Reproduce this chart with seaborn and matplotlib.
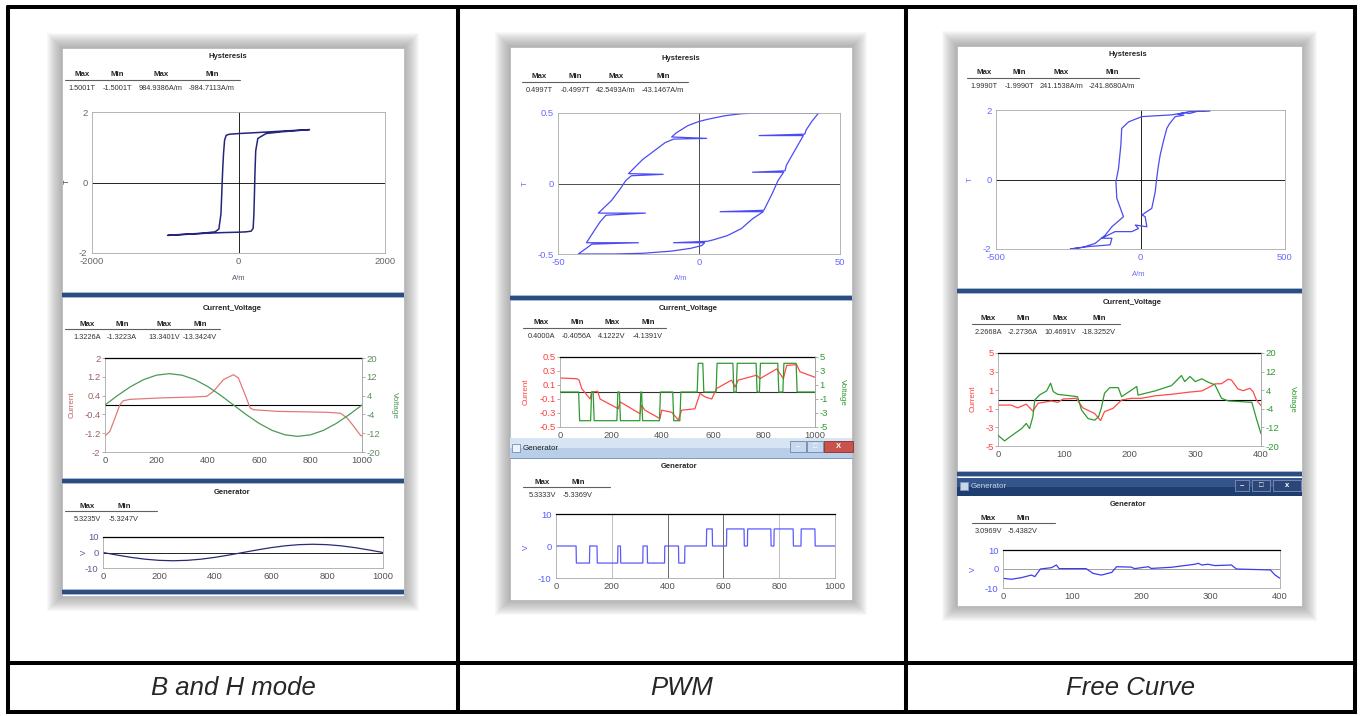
import numpy as np
import pandas as pd
import seaborn as sns
import matplotlib.pyplot as plt
from matplotlib.patches import Rectangle

# ---------------- B and H mode ----------------
bh_loop_h = [968, 700, 450, 200, 14, -123, -168, -190, -205, -215, -223, -230, -240, -268, -320, -500,
             -750, -968, -700, -450, -200, 0, 100, 173, 200, 210, 218, 225, 235, 264, 377, 600, 968]
bh_loop_b = [1.50, 1.47, 1.44, 1.41, 1.39, 1.37, 1.34, 1.2, 0.8, 0.4, 0.0, -0.4, -0.9, -1.32, -1.40, -1.44,
             -1.47, -1.50, -1.47, -1.44, -1.42, -1.41, -1.40, -1.38, -1.3, -0.9, -0.3, 0.3, 0.9, 1.25, 1.39, 1.44, 1.50]
bh_t_cur = [0, 19, 39, 58, 71, 97, 214, 344, 396, 422, 461, 500, 519, 545, 565, 578, 669, 864, 916, 942, 968, 994, 1000]
bh_cur = [-1.32, -1.12, -0.55, 0.01, 0.18, 0.24, 0.30, 0.34, 0.37, 0.58, 1.08, 1.29, 1.15, 0.44, -0.13, -0.20,
          -0.27, -0.31, -0.35, -0.55, -0.91, -1.29, -1.32]
bh_t = [0, 50, 100, 150, 200, 250, 300, 350, 400, 450, 500, 550, 600, 650, 700, 750, 800, 850, 900, 950, 1000]
bh_volt = [0, 4.12, 7.84, 10.79, 12.69, 13.34, 12.69, 10.79, 7.84, 4.12, 0, -4.12, -7.84, -10.79, -12.69,
           -13.34, -12.69, -10.79, -7.84, -4.12, 0]
bh_gen = [0, -1.64, -3.13, -4.31, -5.06, -5.32, -5.06, -4.31, -3.13, -1.64, 0, 1.64, 3.13, 4.31, 5.06,
          5.32, 5.06, 4.31, 3.13, 1.64, 0]
bh_stats_hyst = ['1.5001T', '-1.5001T', '984.9386A/m', '-984.7113A/m']
bh_stats_cv = ['1.3226A', '-1.3223A', '13.3401V', '-13.3424V']
bh_stats_gen = ['5.3235V', '-5.3247V']

# ---------------- PWM ----------------
pwm_loop_h = [42.4, 30, 21, 15, 9, 3, 0, -4, -8, -9.7, 2.7, -9, -12, -16, -20, -23, -25, -12.7, -24, -26,
              -28, -31, -35.7, -19, -33, -35, -37, -39.9, -21.5, -38, -40, -42.8, -30, -20, -10, -3, 1, 2,
              -9, 3, 5, 10, 15, 19, 22.8, 7.5, 23, 24, 26, 28, 30, 19, 30.5, 31, 33, 35, 37, 21.3, 37.5, 38, 40, 42.4]
pwm_loop_b = [0.50, 0.50, 0.50, 0.495, 0.48, 0.455, 0.44, 0.41, 0.36, 0.33, 0.32, 0.315, 0.29, 0.23, 0.17,
              0.11, 0.07, 0.065, 0.055, 0.02, -0.04, -0.12, -0.21, -0.21, -0.225, -0.27, -0.33, -0.42, -0.42,
              -0.43, -0.46, -0.50, -0.50, -0.495, -0.48, -0.46, -0.44, -0.42, -0.42, -0.41, -0.40, -0.37, -0.32,
              -0.25, -0.20, -0.20, -0.19, -0.15, -0.07, 0.02, 0.08, 0.08, 0.09, 0.13, 0.20, 0.27, 0.34, 0.34,
              0.35, 0.38, 0.44, 0.50]
pwm_t_cur = [0, 65, 75, 85, 118, 124, 148, 157, 229, 235, 314, 320, 333, 392, 399, 438, 464, 477, 529, 549,
             569, 595, 614, 673, 686, 699, 771, 784, 850, 876, 889, 928, 941, 1000]
pwm_cur = [0.20, 0.19, 0.17, 0.05, -0.10, 0.00, 0.01, -0.10, -0.24, -0.14, -0.31, -0.19, -0.26, -0.38, -0.26,
           -0.29, -0.40, -0.26, -0.24, -0.02, -0.07, -0.10, 0.05, 0.17, 0.07, 0.17, 0.24, 0.19, 0.33, 0.19,
           0.38, 0.39, 0.29, 0.21]
pwm_volt_on = [73, 130, 233, 320, 442, 538, 612, 691, 782, 874]
pwm_volt_off = [120, 223, 313, 390, 470, 560, 678, 769, 854, 926]
pwm_volt_level = [-4.1, -4.1, -4.1, -4.1, -4.1, 4.1, 4.1, 4.1, 4.1, 4.1]
pwm_gen_on = [72, 147, 231, 327, 439, 539, 611, 686, 781, 878]
pwm_gen_off = [120, 221, 311, 389, 461, 560, 674, 770, 850, 928]
pwm_gen_level = [-5.33, -5.33, -5.33, -5.33, -5.33, 5.33, 5.33, 5.33, 5.33, 5.33]
pwm_stats_hyst = ['0.4997T', '-0.4997T', '42.5493A/m', '-43.1467A/m']
pwm_stats_cv = ['0.4000A', '-0.4056A', '4.1222V', '-4.1391V']
pwm_stats_gen = ['5.3333V', '-5.3369V']

# ---------------- Free Curve ----------------
free_loop_h = [241, 200, 170, 150, 108, 5, -41, -65, -68, -76, -85, -82, -65, -59, -99, -122, -157, -200, -243,
               -180, -105, -99, -134, -88, -30, -7, -18, 22, 16, 5, 39, 51, 56, 62, 68, 79, 91, 100, 120, 150,
               130, 166, 200, 241]
free_loop_b = [1.98, 1.97, 1.90, 1.92, 1.86, 1.81, 1.66, 1.47, 0.99, 0.32, -0.06, -0.54, -0.93, -1.07, -1.36,
               -1.60, -1.84, -1.95, -2.0, -1.93, -1.88, -1.69, -1.69, -1.50, -1.50, -1.41, -1.31, -1.36, -1.07,
               -1.02, -0.83, -0.35, 0.03, 0.40, 0.70, 1.09, 1.47, 1.60, 1.81, 1.85, 1.88, 1.95, 1.97, 1.98]
free_t_cur = [0, 20, 30, 43, 53, 61, 81, 91, 99, 119, 129, 147, 156, 162, 175, 188, 203, 218, 239, 264, 289,
              310, 320, 330, 340, 350, 355, 365, 373, 383, 388, 393, 400]
free_cur = [-0.6, -0.6, -0.9, -0.5, -1.25, -0.4, -0.16, -0.3, 0.05, 0.13, -0.9, -1.5, -2.27, -1.3, -0.95,
            -0.05, 0.13, 0.13, 0.4, 0.56, 0.78, 0.92, 1.28, 1.68, 1.7, 2.18, 2.1, 1.13, 0.95, 1.2, 0.85, -0.05, -0.66]
free_t_volt = [0, 10, 18, 25, 36, 43, 48, 53, 56, 63, 74, 80, 84, 91, 107, 121, 127, 137, 147, 153, 157, 162,
               170, 183, 188, 198, 211, 213, 239, 264, 279, 284, 292, 300, 310, 320, 330, 340, 350, 386, 393, 400]
free_volt = [-15.4, -17.8, -16.1, -14.7, -12.5, -10.3, -12.5, -7.4, -0.2, 1.9, 3.7, 7.0, 3.4, 2.2, 1.7, 1.2,
             -4.5, -8.2, -8.9, -7.4, -3.8, 2.7, 5.1, 5.1, 1.2, 3.1, 5.6, 1.9, 3.7, 6.0, 10.3, 7.7, 9.9, 7.7,
             8.9, 7.4, 6.3, 0.5, -0.6, -1.2, -8.2, -14.7]
free_t_gen = [0, 12, 26, 41, 46, 54, 70, 77, 81, 120, 130, 142, 157, 164, 185, 190, 210, 214, 243, 277, 282,
              287, 296, 306, 330, 337, 386, 393, 400]
free_gen = [-4.9, -5.4, -4.6, -3.2, -4.0, 0.0, 0.7, 2.1, 0.2, 0.2, -2.3, -3.2, -1.8, 1.2, 1.0, 0.2, 1.2, 0.3,
            0.9, 2.5, 3.0, 2.1, 2.5, 1.8, 2.1, 0.0, -0.5, -3.2, -4.9]
free_stats_hyst = ['1.9990T', '-1.9990T', '241.1538A/m', '-241.8680A/m']
free_stats_cv = ['2.2668A', '-2.2736A', '10.4691V', '-18.3252V']
free_stats_gen = ['3.0969V', '-5.4382V']

captions = ['B and H mode', 'PWM', 'Free Curve']
stat_heads = ['Max', 'Min', 'Max', 'Min']

W, H = 1360, 716
sns.set_style("white")
plt.rcParams['font.family'] = ['Liberation Sans', 'DejaVu Sans']
plt.rcParams['axes.unicode_minus'] = False

fig = plt.figure(figsize=(W / 100, H / 100), dpi=100)
bg = fig.add_axes([0, 0, 1, 1], zorder=0)
bg.set_xlim(0, W); bg.set_ylim(H, 0); bg.axis('off')
top = fig.add_axes([0, 0, 1, 1], zorder=20)
top.set_xlim(0, W); top.set_ylim(H, 0); top.axis('off')
top.patch.set_alpha(0)


def add_px_axes(box, z=5):
    x0, y0, x1, y1 = box
    return fig.add_axes([x0 / W, 1 - y1 / H, (x1 - x0) / W, (y1 - y0) / H], zorder=z)


def pulses(on, off, level, ramp, end):
    t, v = [0], [0]
    for a, b, l in zip(on, off, level):
        t += [a, a + ramp, b, b + ramp]
        v += [0, l, l, 0]
    t.append(end); v.append(0)
    return t, v


def frame(ax, xlim, ylim, xticks, yticks, xcol, ycol, top_black=False):
    ax.set_xlim(*xlim); ax.set_ylim(*ylim)
    ax.set_xticks(xticks); ax.set_yticks(yticks)
    ax.set_xticklabels(['%g' % v for v in xticks])
    ax.set_yticklabels(['%g' % v for v in yticks])
    ax.tick_params(axis='x', labelcolor=xcol, color='#909090', labelsize=6.8, length=2, width=0.5, pad=1.2)
    ax.tick_params(axis='y', labelcolor=ycol, color='#909090', labelsize=6.8, length=2, width=0.5, pad=1.2)
    for s in ax.spines.values():
        s.set_color('#a8a8a8'); s.set_linewidth(0.6)
    if top_black:
        ax.spines['top'].set_color('black'); ax.spines['top'].set_linewidth(0.9)
    ax.set_xlabel(''); ax.set_ylabel('')
    ax.set_facecolor('white')


def right_frame(ax2, ylim, yticks, ycol):
    ax2.set_zorder(6); ax2.patch.set_visible(False)
    ax2.set_ylim(*ylim); ax2.set_yticks(yticks)
    ax2.set_yticklabels(['%g' % v for v in yticks])
    ax2.tick_params(axis='y', labelcolor=ycol, color='#909090', labelsize=6.8, length=2, width=0.5, pad=1.2)
    for k in ['left', 'top', 'bottom']:
        ax2.spines[k].set_visible(False)
    ax2.spines['right'].set_color('#a8a8a8'); ax2.spines['right'].set_linewidth(0.6)
    ax2.set_ylabel('')


def line(ax, x, y, color, lw=0.9):
    sns.lineplot(x=x, y=y, ax=ax, color=color, linewidth=lw, sort=False, estimator=None)


def txt(x, y, s, **kw):
    kw.setdefault('ha', 'center'); kw.setdefault('va', 'center')
    top.text(x, y, s, **kw)


def stats(xs, y_head, x0, x1, values):
    for x, h in zip(xs, stat_heads):
        txt(x, y_head, h, fontsize=5.7, fontweight='bold')
    top.plot([x0, x1], [y_head + 5, y_head + 5], color='#606060', lw=0.8)
    for x, v in zip(xs, values):
        txt(x, y_head + 13.5, v, fontsize=5.3, color='#333333')


def shadow(box):
    x0, y0, x1, y1 = box
    for k in range(1, 16):
        bg.add_patch(Rectangle((x0 - k, y0 - k), (x1 - x0) + 2 * k, (y1 - y0) + 2 * k,
                               facecolor='#707070', edgecolor='none', alpha=0.045, zorder=1))
    bg.add_patch(Rectangle((x0, y0), x1 - x0, y1 - y0, facecolor='white', edgecolor='#b5b5b5', lw=0.5, zorder=2))


def sep_bar(x0, x1, y):
    top.add_patch(Rectangle((x0, y - 2.5), x1 - x0, 5, facecolor='#2d4c80', edgecolor='none', zorder=2))
    top.plot([x0, x1], [y - 2.5, y - 2.5], color='#a9bddb', lw=0.7, zorder=3)
    top.plot([x0, x1], [y + 2.5, y + 2.5], color='#7f97bf', lw=0.5, zorder=3)


# screenshots with shadows
shadow((62, 48, 404, 596))
shadow((510, 47, 852, 600))
shadow((957, 46, 1302, 606))

# ================= column 1 : B and H mode =================
ax = add_px_axes((92, 112, 385, 253))
ax.axhline(0, color='black', lw=0.6); ax.axvline(0, color='black', lw=0.6)
line(ax, bh_loop_h, bh_loop_b, '#25257c', 1.1)
frame(ax, (-2000, 2000), (-2, 2), [-2000, 0, 2000], [-2, 0, 2], '#666666', '#666666')
txt(228, 57, 'Hysteresis', fontsize=5.5, fontweight='bold')
stats([82, 117, 161, 212], 75, 65, 240, bh_stats_hyst)
txt(67, 182, 'T', fontsize=5.5, rotation=90, color='#444444')
txt(239, 278, 'A/m', fontsize=5.5, color='#555577')
sep_bar(62, 404, 294)

ax = add_px_axes((105, 358, 362, 452))
ax.axhline(0, color='black', lw=0.8)
line(ax, bh_t_cur, bh_cur, '#e07a7a')
frame(ax, (0, 1000), (-2, 2), [0, 200, 400, 600, 800, 1000], [-2, -1.2, -0.4, 0.4, 1.2, 2],
      '#555555', '#a06060', top_black=True)
ax2 = ax.twinx()
line(ax2, bh_t, bh_volt, '#4a9a58')
right_frame(ax2, (-20, 20), [-20, -12, -4, 4, 12, 20], '#5f8f5f')
txt(232, 308, 'Current_Voltage', fontsize=5.5, fontweight='bold')
stats([87, 122, 164, 200], 324, 65, 220, bh_stats_cv)
txt(72, 405, 'Current', fontsize=5.8, rotation=90, color='#c06060')
txt(394, 405, 'Voltage', fontsize=5.8, rotation=270, color='#4a9a58')
sep_bar(62, 404, 480)

ax = add_px_axes((103, 537, 383, 568))
ax.axhline(0, color='black', lw=0.6)
line(ax, bh_t, bh_gen, '#2a2a78')
frame(ax, (0, 1000), (-10, 10), [0, 200, 400, 600, 800, 1000], [-10, 0, 10],
      '#555555', '#5a5a99', top_black=True)
txt(232, 492, 'Generator', fontsize=5.5, fontweight='bold')
stats([87, 124], 506, 65, 157, bh_stats_gen)
txt(84, 552, 'V', fontsize=5.8, rotation=90, color='#5a5a99')
sep_bar(62, 404, 591)

# ================= column 2 : PWM =================
ax = add_px_axes((558, 113, 840, 254))
ax.axhline(0, color='#303030', lw=0.6); ax.axvline(0, color='#303030', lw=0.6)
line(ax, pwm_loop_h, pwm_loop_b, '#4b4bf5', 0.9)
frame(ax, (-50, 50), (-0.5, 0.5), [-50, 0, 50], [-0.5, 0, 0.5], '#6a6aff', '#6a6aff')
txt(681, 58, 'Hysteresis', fontsize=5.5, fontweight='bold')
stats([539, 575, 616, 663], 77, 522, 688, pwm_stats_hyst)
txt(525, 183, 'T', fontsize=5.8, rotation=90, color='#6a6aff')
txt(681, 278, 'A/m', fontsize=5.5, color='#6a6aff')
sep_bar(510, 852, 297)

ax = add_px_axes((560, 357, 815, 427))
ax.axhline(0, color='#303030', lw=0.8)
line(ax, pwm_t_cur, pwm_cur, '#ff4a4a')
frame(ax, (0, 1000), (-0.5, 0.5), [0, 200, 400, 600, 800, 1000], [-0.5, -0.3, -0.1, 0.1, 0.3, 0.5],
      '#555555', '#ff4040', top_black=True)
ax2 = ax.twinx()
vt, vv = pulses(pwm_volt_on, pwm_volt_off, pwm_volt_level, 4, 1000)
line(ax2, vt, vv, '#2f9a2f')
right_frame(ax2, (-5, 5), [-5, -3, -1, 1, 3, 5], '#2f9a2f')
txt(688, 308, 'Current_Voltage', fontsize=5.5, fontweight='bold')
stats([541, 577, 612, 648], 323, 523, 666, pwm_stats_cv)
txt(526, 392, 'Current', fontsize=5.8, rotation=90, color='#ff4040')
txt(842, 392, 'Voltage', fontsize=5.8, rotation=270, color='#2f9a2f')

# generator window title bar (covers the lower half of the x tick labels above)
top.add_patch(Rectangle((510, 438), 342, 10, facecolor='#d6e4f4', edgecolor='none', zorder=2))
top.add_patch(Rectangle((510, 448), 342, 10, facecolor='#b9cfe9', edgecolor='none', zorder=2))
top.plot([510, 852], [458, 458], color='#7d98bf', lw=0.7, zorder=3)
top.add_patch(Rectangle((512, 444), 8, 8, facecolor='#eef3fa', edgecolor='#6f8fc0', lw=0.6, zorder=3))
txt(523, 449, 'Generator', fontsize=5.8, ha='left', color='#222222')
top.add_patch(Rectangle((790, 441), 16, 11, facecolor='#c8d8ec', edgecolor='#6d86ab', lw=0.6, zorder=3))
top.add_patch(Rectangle((807, 441), 16, 11, facecolor='#c8d8ec', edgecolor='#6d86ab', lw=0.6, zorder=3))
top.add_patch(Rectangle((824, 441), 29, 11, facecolor='#c9524c', edgecolor='#8a2f2a', lw=0.6, zorder=3))
txt(798, 447, '–', fontsize=5, color='#ffffff', fontweight='bold')
txt(815, 446.5, '□', fontsize=5, color='#ffffff', fontweight='bold')
txt(838.5, 446.5, 'X', fontsize=5.5, color='#ffffff', fontweight='bold')

ax = add_px_axes((556, 514, 835, 578))
for gx, gc in zip([200, 400, 600, 800], ['#b5b5b5', '#505050', '#505050', '#b5b5b5']):
    ax.axvline(gx, color=gc, lw=0.6)
gt, gv = pulses(pwm_gen_on, pwm_gen_off, pwm_gen_level, 1, 1000)
line(ax, gt, gv, '#5a5aff', 0.9)
frame(ax, (0, 1000), (-10, 10), [0, 200, 400, 600, 800, 1000], [-10, 0, 10],
      '#555555', '#5a5aff', top_black=True)
txt(679, 467, 'Generator', fontsize=5.5, fontweight='bold')
stats([542, 578], 482, 523, 610, pwm_stats_gen)
txt(526, 547, 'V', fontsize=5.8, rotation=90, color='#5a5aff')

# ================= column 3 : Free Curve =================
ax = add_px_axes((996, 110, 1285, 249))
ax.axhline(0, color='black', lw=0.6); ax.axvline(0, color='black', lw=0.6)
line(ax, free_loop_h, free_loop_b, '#4b4bf0', 0.9)
frame(ax, (-500, 500), (-2, 2), [-500, 0, 500], [-2, 0, 2], '#6a6aff', '#6a6aff')
txt(1128, 55, 'Hysteresis', fontsize=5.5, fontweight='bold')
stats([984, 1019, 1061, 1112], 73, 967, 1139, free_stats_hyst)
txt(970, 179, 'T', fontsize=5.8, rotation=90, color='#6a6aff')
txt(1139, 274, 'A/m', fontsize=5.5, color='#6a6aff')
sep_bar(957, 1302, 290)

ax = add_px_axes((998, 353, 1261, 446))
ax.axhline(0, color='black', lw=0.8)
line(ax, free_t_cur, free_cur, '#ff4a4a')
frame(ax, (0, 400), (-5, 5), [0, 100, 200, 300, 400], [-5, -3, -1, 1, 3, 5],
      '#555555', '#ff4040', top_black=True)
ax2 = ax.twinx()
line(ax2, free_t_volt, free_volt, '#2f9a2f')
right_frame(ax2, (-20, 20), [-20, -12, -4, 4, 12, 20], '#2f9a2f')
txt(1132, 303, 'Current_Voltage', fontsize=5.5, fontweight='bold')
stats([988, 1023, 1060, 1099], 319, 972, 1120, free_stats_cv)
txt(973, 399, 'Current', fontsize=5.8, rotation=90, color='#ff4040')
txt(1292, 399, 'Voltage', fontsize=5.8, rotation=270, color='#2f9a2f')
sep_bar(957, 1302, 473)

top.add_patch(Rectangle((957, 478), 345, 9, facecolor='#34548c', edgecolor='none', zorder=2))
top.add_patch(Rectangle((957, 487), 345, 9, facecolor='#203d70', edgecolor='none', zorder=2))
top.add_patch(Rectangle((960, 482), 8, 8, facecolor='#c9d6ea', edgecolor='#7f97bf', lw=0.6, zorder=3))
txt(971, 487, 'Generator', fontsize=5.8, ha='left', color='#c5d1e6')
for bx, bw, s in [(1235, 14, '–'), (1252, 18, '□'), (1273, 28, 'x')]:
    top.add_patch(Rectangle((bx, 480), bw, 11, facecolor='#2c4777', edgecolor='#8aa0c6', lw=0.5, zorder=3))
    txt(bx + bw / 2, 485.5, s, fontsize=5.5, color='white', fontweight='bold')

ax = add_px_axes((1003, 550, 1280, 588))
ax.axhline(0, color='#909090', lw=0.6)
line(ax, free_t_gen, free_gen, '#3c3cee', 0.9)
frame(ax, (0, 400), (-10, 10), [0, 100, 200, 300, 400], [-10, 0, 10],
      '#555555', '#5a5aff', top_black=True)
txt(1128, 504, 'Generator', fontsize=5.5, fontweight='bold')
stats([988, 1023], 518, 972, 1055, free_stats_gen)
txt(973, 569, 'V', fontsize=5.8, rotation=90, color='#5a5aff')

# ================= table grid and captions =================
lw_tab = 2.9
top.plot([8, 1355, 1355, 8, 8], [7, 7, 712, 712, 7], color='black', lw=lw_tab, solid_joinstyle='miter')
top.plot([458, 458], [7, 712], color='black', lw=lw_tab)
top.plot([906, 906], [7, 712], color='black', lw=lw_tab)
top.plot([8, 1355], [663, 663], color='black', lw=lw_tab)
for cx, c in zip([233, 682, 1131], captions):
    txt(cx, 688, c, fontsize=18.5, style='italic')

fig.savefig('out.png', dpi=100, facecolor='white')
